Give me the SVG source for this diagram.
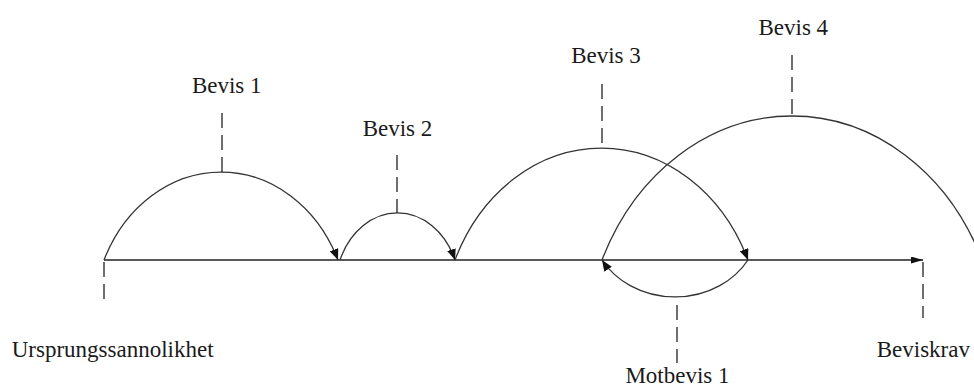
<svg xmlns="http://www.w3.org/2000/svg" width="974" height="388" viewBox="0 0 974 388">
<style>
.lbl{font-family:"Liberation Serif","Times New Roman",serif;font-size:23px;fill:#1a1a1a}
.arc{fill:none;stroke:#333;stroke-width:1.3}
.dash{fill:none;stroke:#222;stroke-width:1.3;stroke-dasharray:15 7}
.axis{fill:none;stroke:#222;stroke-width:1.5}
</style>
<defs>
<marker id="ah" markerUnits="userSpaceOnUse" markerWidth="12" markerHeight="9" refX="11" refY="4.5" orient="auto">
<path d="M0,0 L11,4.5 L0,9 z" fill="#111"/>
</marker>
<marker id="ax" markerUnits="userSpaceOnUse" markerWidth="13" markerHeight="7" refX="12" refY="3.5" orient="auto">
<path d="M0,0 L12,3.5 L0,7 z" fill="#111"/>
</marker>
</defs>
<rect width="974" height="388" fill="#fff"/>
<g id="connectors">
<path class="axis" d="M104,260 L923,260" marker-end="url(#ax)"/>
<path class="arc" d="M104,260 A128.2,148.8 0 0 1 338,260" marker-end="url(#ah)"/>
<path class="arc" d="M340,260 A62.4,76.9 0 0 1 455,260" marker-end="url(#ah)"/>
<path class="arc" d="M455,260 A160.3,188.2 0 0 1 748,260" marker-end="url(#ah)"/>
<path class="arc" d="M602,260 A208,242.8 0 0 1 982,260"/>
<path class="arc" d="M748,260 A84.7,75 0 0 1 602,260" marker-end="url(#ah)"/>
</g>
<g id="ursprung">
<path class="dash" d="M104,262 L104,305"/>
<text class="lbl" x="11.7" y="357">Ursprungssannolikhet</text>
</g>
<g id="bevis1">
<path class="dash" d="M222,113 L222,172"/>
<text class="lbl" x="226.7" y="93" text-anchor="middle">Bevis 1</text>
</g>
<g id="bevis2">
<path class="dash" d="M397,155 L397,213"/>
<text class="lbl" x="397.5" y="136" text-anchor="middle">Bevis 2</text>
</g>
<g id="bevis3">
<path class="dash" d="M602,84 L602,148"/>
<text class="lbl" x="606" y="63" text-anchor="middle">Bevis 3</text>
</g>
<g id="bevis4">
<path class="dash" d="M792,55 L792,116"/>
<text class="lbl" x="793.3" y="35" text-anchor="middle">Bevis 4</text>
</g>
<g id="motbevis1">
<path class="dash" d="M677,305 L677,363"/>
<text class="lbl" x="677.5" y="383" text-anchor="middle">Motbevis 1</text>
</g>
<g id="beviskrav">
<path class="dash" d="M923,262 L923,318"/>
<text class="lbl" x="876.7" y="357">Beviskrav</text>
</g>
</svg>
